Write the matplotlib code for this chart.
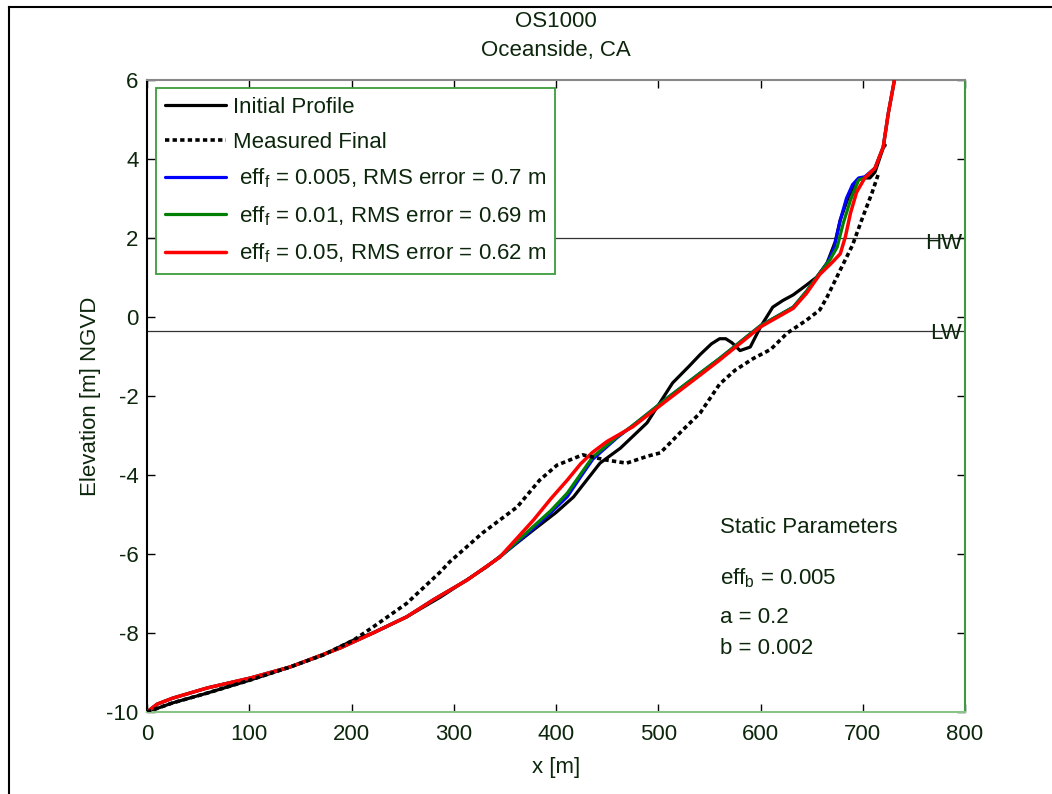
import numpy as np
import matplotlib
matplotlib.use('Agg')
import matplotlib.pyplot as plt
from matplotlib.lines import Line2D

plt.rcParams['font.family'] = ['Liberation Sans', 'DejaVu Sans']
plt.rcParams['mathtext.fontset'] = 'custom'
plt.rcParams['mathtext.rm'] = 'Liberation Sans'
plt.rcParams['mathtext.it'] = 'Liberation Sans'
plt.rcParams['axes.unicode_minus'] = False

# Profiles
x_init = [0, 25, 59, 101, 140, 172, 202, 221, 254, 287, 332, 378, 400, 417, 443, 463, 489,
          514, 530, 541, 552, 560, 566, 572, 580, 590, 600, 612, 622, 632, 645, 655, 665,
          673, 678, 686, 694, 700, 707, 712, 720, 722]
y_init = [-10, -9.77, -9.52, -9.19, -8.86, -8.56, -8.18, -8.0, -7.59, -7.09, -6.33, -5.39,
          -4.95, -4.56, -3.70, -3.32, -2.68, -1.67, -1.25, -0.95, -0.68, -0.55, -0.55, -0.65,
          -0.85, -0.76, -0.25, 0.25, 0.42, 0.56, 0.81, 1.01, 1.36, 1.9, 2.46, 3.04, 3.45,
          3.52, 3.52, 3.67, 4.28, 4.35]

x_meas = [0, 25, 59, 101, 140, 172, 202, 221, 254, 287, 296, 328, 362, 384, 401, 426, 449,
          469, 490, 502, 524, 541, 560, 575, 593, 610, 626, 645, 658, 665, 678, 690, 700,
          709, 715]
y_meas = [-10, -9.77, -9.52, -9.19, -8.86, -8.56, -8.18, -7.85, -7.25, -6.45, -6.2, -5.47,
          -4.81, -4.13, -3.75, -3.49, -3.62, -3.70, -3.52, -3.44, -2.86, -2.43, -1.7, -1.35,
          -1.05, -0.82, -0.41, -0.08, 0.18, 0.5, 1.19, 1.82, 2.53, 3.14, 3.6]

x_red = [0, 10, 25, 59, 101, 140, 189, 221, 254, 280, 313, 345, 378, 395, 411, 424, 436,
         450, 475, 509, 541, 560, 600, 632, 645, 658, 670, 678, 683, 688, 694, 702, 712,
         720, 725, 731]
y_red = [-10, -9.8, -9.65, -9.39, -9.14, -8.86, -8.38, -8.0, -7.59, -7.16, -6.66, -6.08,
         -5.14, -4.6, -4.13, -3.72, -3.42, -3.15, -2.78, -2.1, -1.47, -1.09, -0.25, 0.22,
         0.6, 1.08, 1.38, 1.6, 2.03, 2.63, 3.16, 3.52, 3.77, 4.3, 5.16, 6.0]

x_green = [0, 10, 25, 59, 101, 140, 189, 221, 254, 280, 313, 345, 378, 395, 411, 424, 436,
           460, 475, 509, 541, 560, 600, 632, 645, 658, 668, 675, 681, 688, 696, 702, 712,
           720, 725, 731]
y_green = [-10, -9.8, -9.65, -9.39, -9.14, -8.86, -8.38, -8.0, -7.59, -7.16, -6.66, -6.08,
           -5.3, -4.9, -4.46, -3.98, -3.54, -3.03, -2.75, -2.05, -1.42, -1.05, -0.22, 0.25,
           0.65, 1.11, 1.45, 1.77, 2.38, 2.96, 3.47, 3.52, 3.77, 4.3, 5.16, 6.0]

x_blue = [0, 10, 25, 59, 101, 140, 189, 221, 254, 280, 313, 345, 378, 395, 411, 424, 436,
          460, 475, 509, 541, 560, 600, 632, 645, 658, 666, 672, 678, 684, 690, 696, 702,
          712, 720, 725, 731]
y_blue = [-10, -9.8, -9.65, -9.39, -9.14, -8.86, -8.38, -8.0, -7.59, -7.16, -6.66, -6.08,
          -5.35, -4.95, -4.55, -4.05, -3.6, -3.05, -2.75, -2.05, -1.42, -1.05, -0.22, 0.25,
          0.65, 1.11, 1.4, 1.75, 2.45, 3.0, 3.35, 3.52, 3.55, 3.77, 4.3, 5.16, 6.0]

hw, lw = 2.0, -0.35
labels = ['Initial Profile', 'Measured Final',
          r' eff$_{\mathrm{f}}$ = 0.005, RMS error = 0.7 m',
          r' eff$_{\mathrm{f}}$ = 0.01, RMS error = 0.69 m',
          r' eff$_{\mathrm{f}}$ = 0.05, RMS error = 0.62 m']

txt = '#0c260c'
fs = 16

fig = plt.figure(figsize=(10.52, 7.94), dpi=100)
ax = fig.add_axes([147/1052, 1-712/794, (965-147)/1052, (712-80)/794])

ax.axhline(hw, color='#333333', lw=0.9, zorder=1)
ax.axhline(lw, color='#333333', lw=0.9, zorder=1)

kw = dict(solid_joinstyle='round', solid_capstyle='round')
l1, = ax.plot(x_init, y_init, color='black', lw=2.3, zorder=2, **kw)
l2, = ax.plot(x_meas, y_meas, color='black', lw=2.6, ls=(0, (1.2, 0.9)), zorder=6)
l3, = ax.plot(x_blue, y_blue, color='#0000ff', lw=2.3, zorder=3, **kw)
l4, = ax.plot(x_green, y_green, color='#008000', lw=2.3, zorder=4, **kw)
l5, = ax.plot(x_red, y_red, color='#ff0000', lw=2.5, zorder=5, **kw)

ax.set_xlim(0, 800)
ax.set_ylim(-10, 6)
ax.set_xticks(np.arange(0, 801, 100))
ax.set_yticks(np.arange(-10, 7, 2))
ax.tick_params(direction='in', length=6, width=1, top=True, right=True,
               labelsize=fs, labelcolor=txt)
ax.tick_params(axis='x', pad=9)
ax.tick_params(axis='y', pad=6)
ax.spines['left'].set_color('black')
ax.spines['top'].set_color('#888888')
ax.spines['right'].set_color('#3c9c3c')
ax.spines['bottom'].set_color('#88c488')
for s in ax.spines.values():
    s.set_linewidth(1.5)

ax.set_xlabel('x [m]', fontsize=fs, color=txt, labelpad=8)
ax.set_ylabel('Elevation [m] NGVD', fontsize=fs, color=txt, labelpad=4)
ax.set_title('OS1000\nOceanside, CA', fontsize=fs, color=txt, pad=17, linespacing=1.55)

ax.text(797, 1.87, 'HW', ha='right', va='center', fontsize=fs, color=txt)
ax.text(797, -0.42, 'LW', ha='right', va='center', fontsize=fs, color=txt)

ax.text(560, -5.32, 'Static Parameters', ha='left', va='center', fontsize=fs, color=txt)
ax.text(560, -6.62, r'eff$_{\mathrm{b}}$ = 0.005', ha='left', va='center', fontsize=fs, color=txt)
ax.text(560, -7.62, 'a = 0.2', ha='left', va='center', fontsize=fs, color=txt)
ax.text(560, -8.38, 'b = 0.002', ha='left', va='center', fontsize=fs, color=txt)

leg = ax.legend([l1, l2, l3, l4, l5], labels, loc='upper left', fontsize=fs,
                bbox_to_anchor=(0.011, 0.987), borderaxespad=0, fancybox=False,
                handlelength=2.75, handletextpad=0.3, labelspacing=0.62,
                borderpad=0.4, framealpha=1)
leg.get_frame().set_edgecolor('#3c9c3c')
leg.get_frame().set_linewidth(1.3)
for t in leg.get_texts():
    t.set_color(txt)

# figure frame (only left and top edges visible)
fig.add_artist(Line2D([9/1052, 9/1052], [0, 1-7/794], color='black', lw=1.5,
                      transform=fig.transFigure))
fig.add_artist(Line2D([9/1052, 1], [1-7/794, 1-7/794], color='black', lw=1.5,
                      transform=fig.transFigure))

fig.savefig('out.png', dpi=100)
